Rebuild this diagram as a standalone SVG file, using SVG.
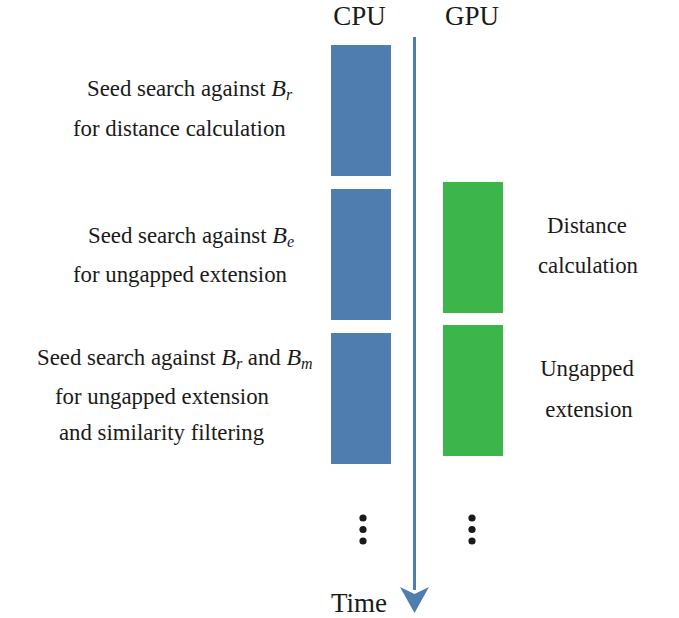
<svg xmlns="http://www.w3.org/2000/svg" width="679" height="618" viewBox="0 0 679 618">
<style>
  .t { font-family: "Liberation Serif", "Times New Roman", serif; font-size: 22.8px; fill: #1a1a1a; }
  .h { font-family: "Liberation Serif", "Times New Roman", serif; font-size: 27px; fill: #1a1a1a; }
  .m { font-style: italic; font-size: 24px; }
  .s { font-style: italic; font-size: 16px; }
  .cpu { fill: #4f7db0; }
  .gpu { fill: #3cb64b; }
  .dot { fill: #1a1a1a; }
</style>
<rect width="679" height="618" fill="#ffffff"/>
<g id="headers">
  <text class="h" x="359.5" y="24.5" text-anchor="middle">CPU</text>
  <text class="h" x="472" y="24.5" text-anchor="middle">GPU</text>
  <text class="h" x="359" y="612" text-anchor="middle">Time</text>
</g>
<g id="connectors">
  <line x1="414.5" y1="37" x2="414.5" y2="590" stroke="#4f7db0" stroke-width="3"/>
  <path d="M400,587 L414.5,594 L429,587 L414.5,613 Z" fill="#4f7db0"/>
</g>
<g id="cpu1">
  <rect class="cpu" x="331" y="45" width="60" height="131"/>
  <text class="t" x="87" y="96">Seed search against <tspan class="m">B</tspan><tspan class="s" dy="4">r</tspan></text>
  <text class="t" x="73" y="136">for distance calculation</text>
</g>
<g id="cpu2">
  <rect class="cpu" x="331" y="189" width="60" height="131"/>
  <text class="t" x="88" y="243">Seed search against <tspan class="m">B</tspan><tspan class="s" dy="4">e</tspan></text>
  <text class="t" x="73" y="282">for ungapped extension</text>
</g>
<g id="cpu3">
  <rect class="cpu" x="331" y="333" width="60" height="131"/>
  <text class="t" x="37" y="365">Seed search against <tspan class="m">B</tspan><tspan class="s" dy="4">r</tspan><tspan dy="-4"> and </tspan><tspan class="m">B</tspan><tspan class="s" dy="4">m</tspan></text>
  <text class="t" x="55" y="404">for ungapped extension</text>
  <text class="t" x="59" y="440">and similarity filtering</text>
</g>
<g id="gpu1">
  <rect class="gpu" x="443" y="182" width="60" height="131"/>
  <text class="t" x="587" y="233" text-anchor="middle">Distance</text>
  <text class="t" x="588" y="273" text-anchor="middle">calculation</text>
</g>
<g id="gpu2">
  <rect class="gpu" x="443" y="325" width="60" height="131"/>
  <text class="t" x="587" y="376" text-anchor="middle">Ungapped</text>
  <text class="t" x="589" y="417" text-anchor="middle">extension</text>
</g>
<g id="ellipsis-cpu">
  <circle class="dot" cx="363" cy="518" r="3.6"/>
  <circle class="dot" cx="363" cy="529.5" r="3.6"/>
  <circle class="dot" cx="363" cy="541" r="3.6"/>
</g>
<g id="ellipsis-gpu">
  <circle class="dot" cx="472" cy="518" r="3.6"/>
  <circle class="dot" cx="472" cy="529.5" r="3.6"/>
  <circle class="dot" cx="472" cy="541" r="3.6"/>
</g>
</svg>
